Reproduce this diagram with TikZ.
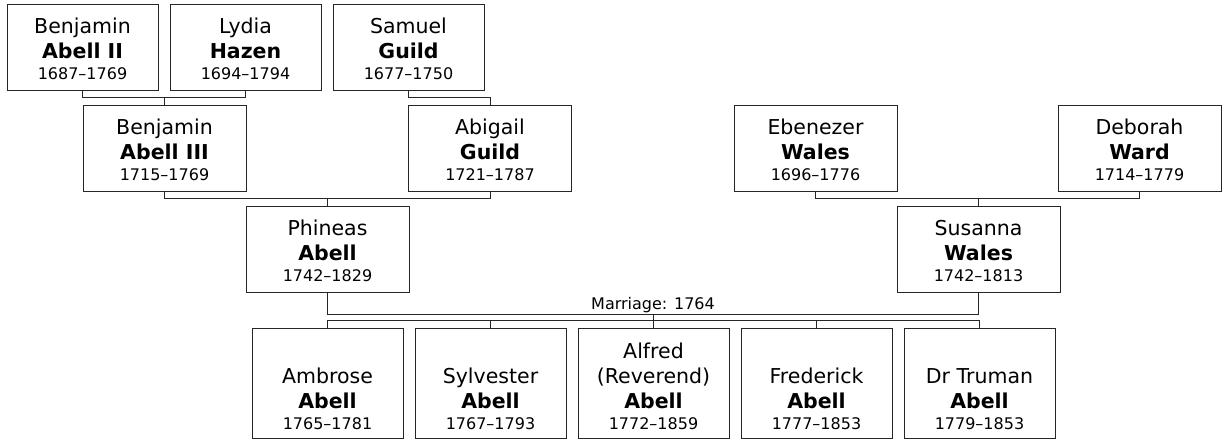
\documentclass[tikz,border=0pt]{standalone}
\usepackage{fontspec}
\setmainfont{DejaVu Sans}
\newcommand{\yrs}[1]{{\fontsize{16}{21}\selectfont #1}}

\begin{document}
\begin{tikzpicture}[x=1pt, y=-1pt,
	every node/.style={font=\fontsize{20.5}{25}\selectfont},
	person/.style={draw=black!85, line width=1pt, align=center, inner sep=0pt,
		minimum width=151pt, text height=75pt, text depth=11pt},
	wide/.style={person, minimum width=163pt},
	child/.style={person, text height=101pt, text depth=9pt},
	link/.style={draw=black!85, line width=1pt}]
	\useasboundingbox (0,0) rectangle (1226,442);
	% grandparents
	\node[person] (ben2) at (82.5,47) {Benjamin\\\textbf{Abell II}\\[-4pt]\yrs{1687–1769}};
	\node[person] (lydia) at (245.5,47) {Lydia\\\textbf{Hazen}\\[-4pt]\yrs{1694–1794}};
	\node[person] (samuel) at (408.5,47) {Samuel\\\textbf{Guild}\\[-4pt]\yrs{1677–1750}};
	% parents of the couple
	\node[wide] (ben3) at (164.5,148) {Benjamin\\\textbf{Abell III}\\[-4pt]\yrs{1715–1769}};
	\node[wide] (abigail) at (490,148) {Abigail\\\textbf{Guild}\\[-4pt]\yrs{1721–1787}};
	\node[wide] (ebenezer) at (815.5,148) {Ebenezer\\\textbf{Wales}\\[-4pt]\yrs{1696–1776}};
	\node[wide] (deborah) at (1139.5,148) {Deborah\\\textbf{Ward}\\[-4pt]\yrs{1714–1779}};
	% the couple
	\node[wide] (phineas) at (327.5,249.5) {Phineas\\\textbf{Abell}\\[-4pt]\yrs{1742–1829}};
	\node[wide] (susanna) at (978.5,249.5) {Susanna\\\textbf{Wales}\\[-4pt]\yrs{1742–1813}};
	% children
	\foreach \n/\first/\life [count=\i from 0] in {ambrose/Ambrose/1765–1781,
			sylvester/Sylvester/1767–1793, alfred/{Alfred\\(Reverend)}/1772–1859,
			frederick/Frederick/1777–1853, truman/Dr Truman/1779–1853}
		\node[child] (\n) at ({327.5+163*\i},383) {\first\\\textbf{Abell}\\[-4pt]\yrs{\life}};

	\draw[link] (ben2.south) -- ++(0,7) coordinate (c1) -| (lydia.south);
	\draw[link] (ben3.north) -- (ben3.north |- c1);
	\draw[link] (samuel.south) -- ++(0,7) -| (abigail.north);
	\draw[link] (ben3.south) -- ++(0,7) coordinate (c2) -| (abigail.south);
	\draw[link] (phineas.north) -- (phineas.north |- c2);
	\draw[link] (ebenezer.south) -- ++(0,7) coordinate (c3) -| (deborah.south);
	\draw[link] (susanna.north) -- (susanna.north |- c3);
	\draw[link] (phineas.south) -- ++(0,21) coordinate (wed) -|
		node[pos=0.25, above, inner sep=0.5pt, font=\fontsize{16}{20}\selectfont] (wedding) {Marriage: 1764}
		(susanna.south);
	\draw[link] (alfred.north) -- (alfred.north |- wed);
	\draw[link] (ambrose.north) -- ++(0,-7) -| (truman.north);
	\foreach \n in {sylvester, frederick}
		\draw[link] (\n.north) -- ++(0,-7);
\end{tikzpicture}
\end{document}
